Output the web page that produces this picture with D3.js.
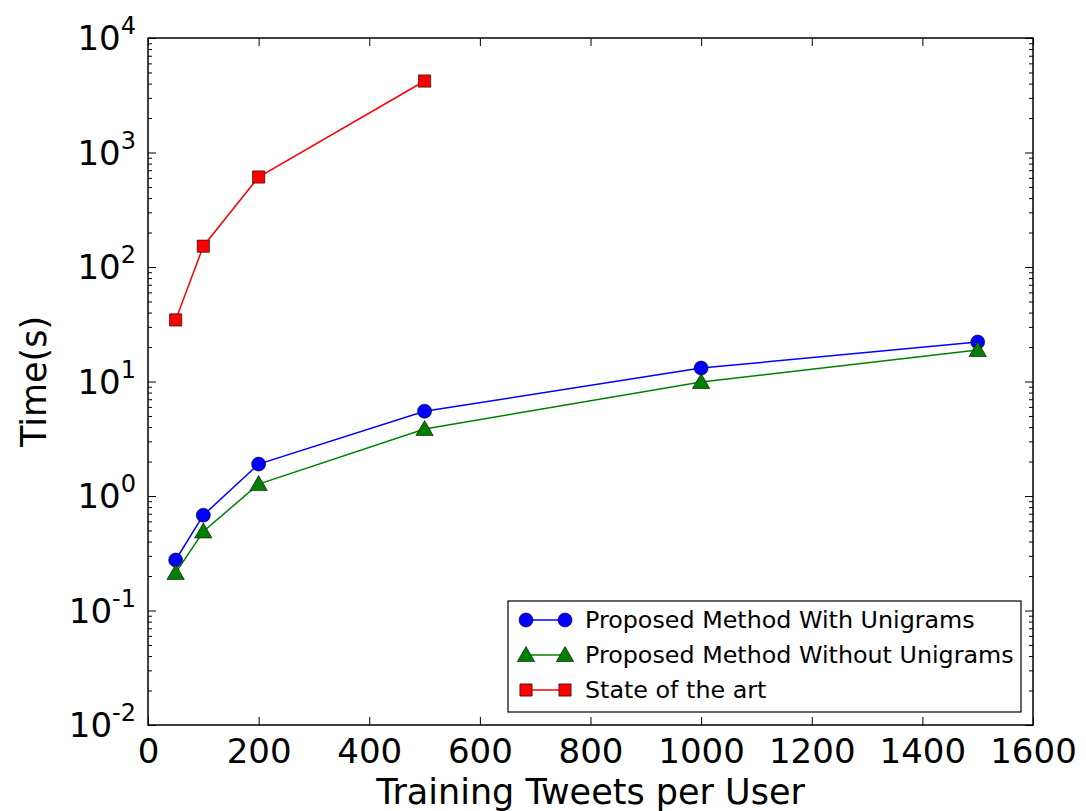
<!DOCTYPE html>
<html>
<head>
<meta charset="utf-8">
<script src="https://cdn.jsdelivr.net/npm/d3@7"></script>
<style>
  body { margin: 0; background: #fff; }
  text { font-family: "DejaVu Sans", sans-serif; }
</style>
</head>
<body>
<div id="chart"></div>
<script>
// Data
const tweets = [50, 100, 200, 500, 1000, 1500];
const withUnigrams = [0.276, 0.68, 1.9, 5.5, 13.1, 22.1];
const withoutUnigrams = [0.213, 0.49, 1.27, 3.85, 9.9, 18.8];
const stateTweets = [50, 100, 200, 500];
const stateOfArt = [34.5, 152, 611, 4210];
const xTicks = [0, 200, 400, 600, 800, 1000, 1200, 1400, 1600];
const yExponents = [-2, -1, 0, 1, 2, 3, 4];
const seriesNames = ["Proposed Method With Unigrams", "Proposed Method Without Unigrams", "State of the art"];

const width = 1086, height = 811;
const margin = {top: 38, right: 53, bottom: 86, left: 148};
const w = width - margin.left - margin.right;
const h = height - margin.top - margin.bottom;

const svg = d3.select("#chart").append("svg")
    .attr("width", width)
    .attr("height", height);

const g = svg.append("g")
    .attr("transform", `translate(${margin.left}, ${margin.top})`);

const x = d3.scaleLinear().domain([0, 1600]).range([0, w]);
const y = d3.scaleLog().domain([1e-2, 1e4]).range([h, 0]);

// minor ticks for log axis
const minorVals = [];
for (let e = -2; e < 4; e++) {
  for (let k = 2; k <= 9; k++) minorVals.push(k * Math.pow(10, e));
}

// x axes (bottom with labels, top without), inward ticks
const gx = g.append("g").attr("transform", `translate(0, ${h})`)
    .call(d3.axisBottom(x).tickValues(xTicks).tickSize(-8).tickPadding(14).tickFormat(d3.format("d")));
g.append("g").call(d3.axisTop(x).tickValues(xTicks).tickSize(-8).tickFormat(""));

gx.selectAll("text").style("font-size", "34px").attr("fill", "#000");

// y axes
g.append("g")
    .call(d3.axisLeft(y).tickValues(yExponents.map(e => Math.pow(10, e))).tickSize(-8).tickFormat(""));
g.append("g").call(d3.axisLeft(y).tickValues(minorVals).tickSize(-4).tickFormat(""));
g.append("g").attr("transform", `translate(${w}, 0)`)
    .call(d3.axisRight(y).tickValues(yExponents.map(e => Math.pow(10, e))).tickSize(-8).tickFormat(""));
g.append("g").attr("transform", `translate(${w}, 0)`)
    .call(d3.axisRight(y).tickValues(minorVals).tickSize(-4).tickFormat(""));

g.selectAll(".domain").remove();
g.selectAll(".tick line").attr("stroke", "#000").attr("stroke-width", 1);

// y tick labels as 10^n
yExponents.forEach(e => {
  const t = g.append("text")
      .attr("x", -12)
      .attr("y", y(Math.pow(10, e)) + 12)
      .attr("text-anchor", "end")
      .style("font-size", "34px");
  t.append("tspan").text("10");
  t.append("tspan").attr("dy", -16).style("font-size", "24px").text(e);
});

// frame
g.append("rect")
    .attr("width", w).attr("height", h)
    .attr("fill", "none").attr("stroke", "#000").attr("stroke-width", 1.5);

// axis titles
svg.append("text")
    .attr("x", margin.left + w / 2)
    .attr("y", 804)
    .attr("text-anchor", "middle")
    .style("font-size", "35px")
    .text("Training Tweets per User");

svg.append("text")
    .attr("transform", `translate(46, ${margin.top + h / 2}) rotate(-90)`)
    .attr("text-anchor", "middle")
    .style("font-size", "35px")
    .text("Time(s)");

const line = d3.line().x(d => x(d[0])).y(d => y(d[1]));

const series = [
  {name: seriesNames[0], xs: tweets, ys: withUnigrams, color: "#0000ff", marker: "circle"},
  {name: seriesNames[1], xs: tweets, ys: withoutUnigrams, color: "#008000", marker: "triangle"},
  {name: seriesNames[2], xs: stateTweets, ys: stateOfArt, color: "#ff0000", marker: "square"}
];

const symbolFor = {
  circle: d3.symbol().type(d3.symbolCircle).size(Math.PI * 7 * 7),
  triangle: d3.symbol().type(d3.symbolTriangle).size(130),
  square: d3.symbol().type(d3.symbolSquare).size(150)
};

function drawMarker(sel, s) {
  sel.append("path")
      .attr("d", symbolFor[s.marker]())
      .attr("fill", s.color)
      .attr("stroke", "#000")
      .attr("stroke-width", 0.6);
}

const plot = g.append("g");
series.forEach(s => {
  const pts = s.xs.map((v, i) => [v, s.ys[i]]);
  plot.append("path").datum(pts)
      .attr("fill", "none")
      .attr("stroke", s.color)
      .attr("stroke-width", 1.5)
      .attr("d", line);
  plot.selectAll(null).data(pts).enter()
      .append("g")
      .attr("transform", d => `translate(${x(d[0])}, ${y(d[1]) + (s.marker === "triangle" ? 1.5 : 0)})`)
      .each(function() { drawMarker(d3.select(this), s); });
});

// legend
const legend = svg.append("g").attr("transform", "translate(508, 601)");
legend.append("rect")
    .attr("width", 513).attr("height", 111)
    .attr("fill", "#fff").attr("stroke", "#000").attr("stroke-width", 1.2);

series.forEach((s, i) => {
  const row = legend.append("g").attr("transform", `translate(0, ${19 + i * 35})`);
  row.append("line")
      .attr("x1", 18).attr("x2", 57)
      .attr("stroke", s.color).attr("stroke-width", 1.5);
  [18, 57].forEach(cx => {
    const m = row.append("g").attr("transform", `translate(${cx}, ${s.marker === "triangle" ? 1.5 : 0})`);
    drawMarker(m, s);
  });
  row.append("text")
      .attr("x", 77).attr("y", 8)
      .style("font-size", "23.8px")
      .text(s.name);
});
</script>
</body>
</html>
